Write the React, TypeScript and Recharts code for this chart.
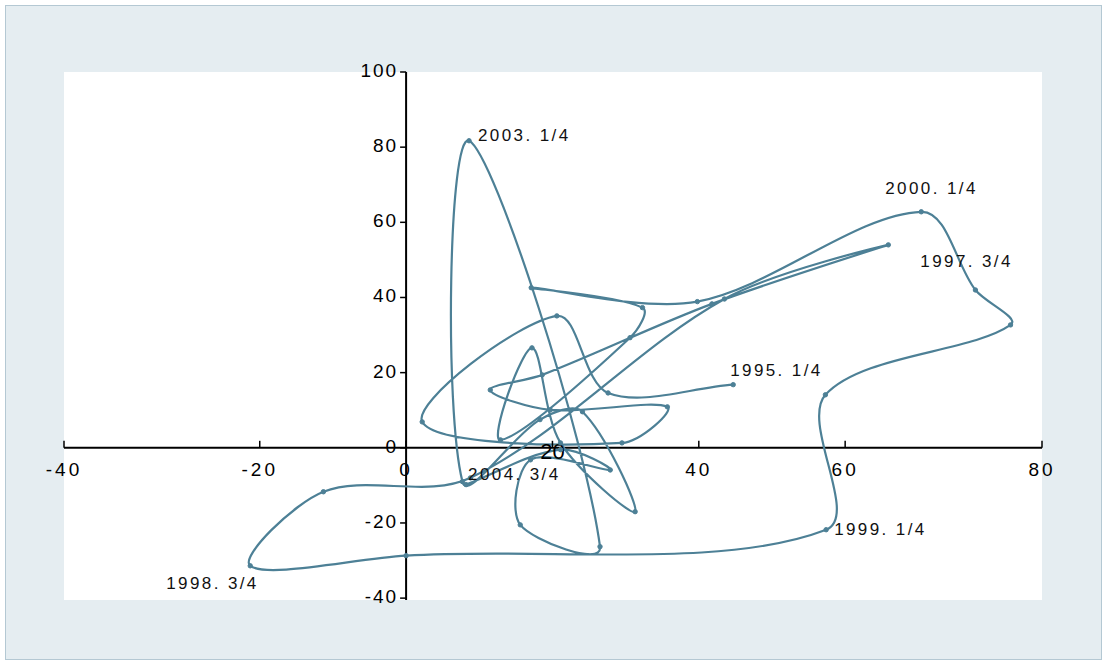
import React from 'react';
import {
  LineChart,
  Line,
  XAxis,
  YAxis,
  CartesianGrid,
  ReferenceLine,
  ReferenceDot,
  LabelList,
} from 'recharts';

// quarterly path, 1995 Q1 .. 2004 Q3
const startYear = 1995;
const quarterCount = 39;
const quarters = Array.from({ length: quarterCount }, (_, i) => `${startYear + Math.floor(i / 4)}. ${(i % 4) + 1}/4`);

const xValues = [
  44.7, 27.6, 20.6, 2.2, 29.5, 35.7, 19.7, 11.5, 18.6, 41.8,
  65.9, 43.5, 8.8, -11.3, -21.3, 0.0, 57.4, 57.3, 82.6, 77.8,
  70.4, 39.8, 17.1, 32.3, 30.6, 12.9, 17.2, 21.1, 31.3, 24.1,
  18.3, 7.7, 8.6, 26.5, 15.6, 17.0, 27.9, 21.1, 8.2,
];
const yValues = [
  16.8, 14.6, 35.1, 6.9, 1.3, 10.9, 10.1, 15.4, 19.4, 38.3,
  54.0, 39.6, -8.0, -11.7, -31.4, -28.7, -21.8, 14.1, 32.7, 42.0,
  62.8, 38.9, 42.6, 37.3, 29.3, 2.1, 26.6, 1.3, -17.0, 9.6,
  7.5, -9.0, 81.7, -26.3, -20.5, -3.2, -5.9, -0.5, -9.8,
];

const shownLabels = ['1995. 1/4', '1997. 3/4', '1998. 3/4', '1999. 1/4', '2000. 1/4', '2003. 1/4', '2004. 3/4'];

// axis ends are stretched to the plot edges in the original
const xDomain = [-46.75, 86.9];
const yDomain = [-40.5, 100];
const xTickValues = [-46.75, -20, 0, 20, 40, 60, 86.9];
const xTickLabels = ['-40', '-20', '0', '20', '40', '60', '80'];
const yTickValues = [100, 80, 60, 40, 20, 0, -20, -40];

const data = quarters.map((q, i) => ({ q, x: xValues[i], y: yValues[i] }));

// where each annotation sits relative to its point
const labelOffset: Record<string, [number, number]> = {
  '1995. 1/4': [-3, -13],
  '1997. 3/4': [32, 18],
  '1998. 3/4': [-84, 19],
  '1999. 1/4': [8, 1],
  '2000. 1/4': [-36, -22],
  '2003. 1/4': [9, -4],
  '2004. 3/4': [2, -9],
};

const LINE = '#4d8096';
const FONT = '"Liberation Sans", Arial, sans-serif';

// excel-like smoothing: handles scaled by chord length so short hops don't overshoot
function smoothCurve(context: any) {
  let pts: number[][] = [];
  const dist = (a: number[], b: number[]) => Math.hypot(b[0] - a[0], b[1] - a[1]) || 1e-6;
  return {
    areaStart() {},
    areaEnd() {},
    lineStart() {
      pts = [];
    },
    point(x: number, y: number) {
      pts.push([x, y]);
    },
    lineEnd() {
      const n = pts.length;
      if (!n) return;
      context.moveTo(pts[0][0], pts[0][1]);
      for (let i = 0; i < n - 1; i++) {
        const p0 = pts[Math.max(i - 1, 0)];
        const p1 = pts[i];
        const p2 = pts[i + 1];
        const p3 = pts[Math.min(i + 2, n - 1)];
        const d01 = i === 0 ? 0 : dist(p0, p1);
        const d12 = dist(p1, p2);
        const d23 = i + 2 > n - 1 ? 0 : dist(p2, p3);
        const k1 = d12 / (d01 + d12) / 3;
        const k2 = d12 / (d12 + d23) / 3;
        context.bezierCurveTo(
          p1[0] + (p2[0] - p0[0]) * k1,
          p1[1] + (p2[1] - p0[1]) * k1,
          p2[0] - (p3[0] - p1[0]) * k2,
          p2[1] - (p3[1] - p1[1]) * k2,
          p2[0],
          p2[1]
        );
      }
    },
  };
}

function PointLabel(props: any) {
  const { x, y, value } = props;
  if (!shownLabels.includes(value)) return null;
  const [dx, dy] = labelOffset[value];
  return (
    <text x={x + dx} y={y + dy} dominantBaseline="middle" fontSize={17} letterSpacing={2.4} fill="#111" fontFamily={FONT}>
      {value}
    </text>
  );
}

export default function App() {
  return (
    <div style={{ position: 'absolute', left: 0, top: 0, width: 1107, height: 664, background: '#fff' }}>
      <div
        style={{
          position: 'absolute',
          left: 5,
          top: 5,
          width: 1095,
          height: 653,
          background: '#e5edf1',
          border: '1px solid #b4c8d3',
        }}
      />
      <div style={{ position: 'absolute', left: 0, top: 0 }}>
        <LineChart width={1107} height={664} data={data} margin={{ top: 72, right: 65, bottom: 64, left: 64 }}>
          <CartesianGrid fill="#fff" horizontal={false} vertical={false} />
          <XAxis dataKey="x" type="number" domain={xDomain} hide allowDataOverflow />
          <YAxis type="number" domain={yDomain} hide allowDataOverflow />

          <ReferenceLine y={0} stroke="#000" strokeWidth={2} />
          <ReferenceLine x={0} stroke="#000" strokeWidth={2} />

          {xTickValues.map((t, i) => (
            <ReferenceDot
              key={'xt' + i}
              x={t}
              y={0}
              r={0}
              ifOverflow="visible"
              shape={(p: any) => (
                <g>
                  <line x1={p.cx} y1={p.cy} x2={p.cx} y2={p.cy - 7} stroke="#000" strokeWidth={1.5} />
                  <text
                    x={p.cx}
                    y={p.cy + (xTickLabels[i] === '20' ? 5 : 23)}
                    textAnchor="middle"
                    dominantBaseline="middle"
                    fontSize={xTickLabels[i] === '20' ? 22 : 19}
                    letterSpacing={xTickLabels[i] === '20' ? 0 : 3}
                    fill="#000"
                    fontFamily={FONT}
                  >
                    {xTickLabels[i]}
                  </text>
                </g>
              )}
            />
          ))}

          {yTickValues.map((t, i) => (
            <ReferenceDot
              key={'yt' + i}
              x={0}
              y={t}
              r={0}
              ifOverflow="visible"
              shape={(p: any) => (
                <g>
                  <line x1={p.cx} y1={p.cy} x2={p.cx - 6} y2={p.cy} stroke="#000" strokeWidth={1.5} />
                  <text
                    x={p.cx - 8}
                    y={p.cy}
                    textAnchor="end"
                    dominantBaseline="middle"
                    fontSize={19}
                    letterSpacing={2}
                    fill="#000"
                    fontFamily={FONT}
                  >
                    {t}
                  </text>
                </g>
              )}
            />
          ))}

          <Line
            dataKey="y"
            type={smoothCurve as any}
            stroke={LINE}
            strokeWidth={2.2}
            dot={{ r: 2.2, fill: LINE, stroke: LINE, strokeWidth: 1 }}
            activeDot={false}
            isAnimationActive={false}
          >
            <LabelList dataKey="q" content={<PointLabel />} />
          </Line>
        </LineChart>
      </div>
    </div>
  );
}
